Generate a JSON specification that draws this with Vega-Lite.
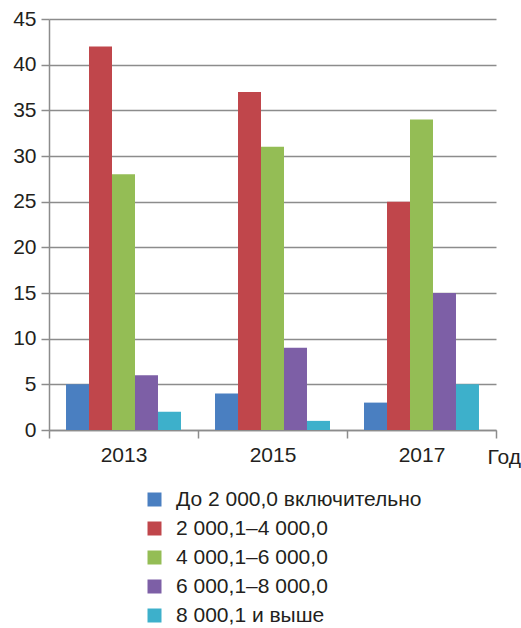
{
  "$schema": "https://vega.github.io/schema/vega-lite/v6.json",
  "width": 447,
  "height": 411,
  "autosize": {"type": "none"},
  "padding": {"left": 49, "top": 19, "right": 25, "bottom": 198},
  "background": "white",
  "config": {
    "view": {"stroke": null},
    "font": "Liberation Sans",
    "axis": {"labelFont": "Liberation Sans", "titleFont": "Liberation Sans", "labelColor": "#231f20", "titleColor": "#231f20"}
  },
  "data": {
    "values": [
      {"year": "2013", "group": "До 2 000,0 включительно", "value": 5},
      {"year": "2013", "group": "2 000,1–4 000,0", "value": 42},
      {"year": "2013", "group": "4 000,1–6 000,0", "value": 28},
      {"year": "2013", "group": "6 000,1–8 000,0", "value": 6},
      {"year": "2013", "group": "8 000,1 и выше", "value": 2},
      {"year": "2015", "group": "До 2 000,0 включительно", "value": 4},
      {"year": "2015", "group": "2 000,1–4 000,0", "value": 37},
      {"year": "2015", "group": "4 000,1–6 000,0", "value": 31},
      {"year": "2015", "group": "6 000,1–8 000,0", "value": 9},
      {"year": "2015", "group": "8 000,1 и выше", "value": 1},
      {"year": "2017", "group": "До 2 000,0 включительно", "value": 3},
      {"year": "2017", "group": "2 000,1–4 000,0", "value": 25},
      {"year": "2017", "group": "4 000,1–6 000,0", "value": 34},
      {"year": "2017", "group": "6 000,1–8 000,0", "value": 15},
      {"year": "2017", "group": "8 000,1 и выше", "value": 5}
    ]
  },
  "mark": {"type": "bar"},
  "encoding": {
    "x": {
      "field": "year", "type": "nominal",
      "scale": {"paddingInner": 0, "paddingOuter": 0},
      "axis": {
        "title": "Год", "labelAngle": 0, "labelFontSize": 21, "labelPadding": 6,
        "tickBand": "extent", "tickSize": 8, "tickColor": "#8c8c8c", "tickWidth": 1.5,
        "domainColor": "#8c8c8c", "domainWidth": 1.5,
        "titleFontSize": 21, "titleFontWeight": "normal", "titleAnchor": "start", "titleAlign": "left",
        "titleBaseline": "alphabetic", "titleX": 438, "titleY": 33
      }
    },
    "xOffset": {
      "field": "group", "type": "nominal",
      "sort": ["До 2 000,0 включительно", "2 000,1–4 000,0", "4 000,1–6 000,0", "6 000,1–8 000,0", "8 000,1 и выше"],
      "scale": {"paddingInner": 0, "paddingOuter": 0.74}
    },
    "y": {
      "field": "value", "type": "quantitative",
      "scale": {"domain": [0, 45], "nice": false},
      "axis": {
        "title": null, "values": [0, 5, 10, 15, 20, 25, 30, 35, 40, 45],
        "labelFontSize": 21, "labelPadding": 5, "tickSize": 8, "tickColor": "#8c8c8c", "tickWidth": 1.5,
        "gridColor": "#8c8c8c", "gridWidth": 1.5, "gridOpacity": 1,
        "domainColor": "#8c8c8c", "domainWidth": 1.5
      }
    },
    "color": {
      "field": "group", "type": "nominal",
      "sort": ["До 2 000,0 включительно", "2 000,1–4 000,0", "4 000,1–6 000,0", "6 000,1–8 000,0", "8 000,1 и выше"],
      "scale": {
        "domain": ["До 2 000,0 включительно", "2 000,1–4 000,0", "4 000,1–6 000,0", "6 000,1–8 000,0", "8 000,1 и выше"],
        "range": ["#4a7fc1", "#c0464b", "#94bd55", "#7d5fa6", "#3db0cb"]
      },
      "legend": {
        "title": null, "orient": "none", "legendX": 95, "legendY": 470,
        "symbolType": "square", "symbolSize": 196, "symbolStrokeWidth": 0,
        "labelFontSize": 21, "labelColor": "#231f20", "labelFont": "Liberation Sans",
        "rowPadding": 7, "padding": 0, "labelOffset": 11, "labelLimit": 400
      }
    }
  }
}
